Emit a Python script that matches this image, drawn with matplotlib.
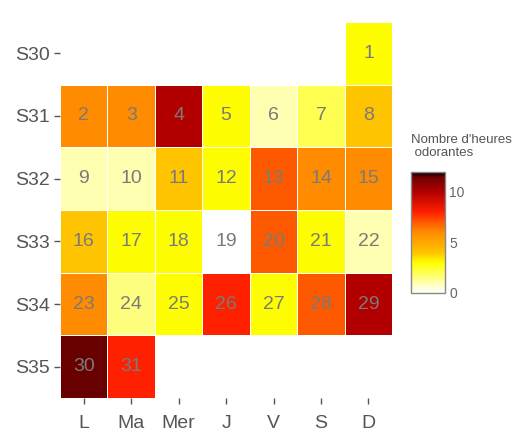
import numpy as np
import matplotlib.pyplot as plt
from matplotlib.colors import LinearSegmentedColormap

plt.rcParams['font.family'] = ['Liberation Sans', 'DejaVu Sans']

weeks = ['S30', 'S31', 'S32', 'S33', 'S34', 'S35']
days = ['L', 'Ma', 'Mer', 'J', 'V', 'S', 'D']
# hours per day of the month, day 1 falls on a Sunday
hours = [3, 6, 6, 10, 3, 1, 2, 4, 1, 1,
         4, 3, 7, 6, 6, 4, 3, 3, 0, 7,
         3, 1, 6, 1.5, 3, 8, 3, 7, 10, 11.5,
         8]
first_weekday = 6

cmap = LinearSegmentedColormap.from_list('heures', [
    (0 / 12, '#FFFFFF'), (1 / 12, '#FFFFB0'), (2 / 12, '#FFFF50'),
    (3 / 12, '#FFFF00'), (4 / 12, '#FFC400'), (6 / 12, '#FF8C00'),
    (7 / 12, '#FF5A00'), (8 / 12, '#FF2000'), (10 / 12, '#B30000'),
    (11.5 / 12, '#700000'), (12 / 12, '#000000')])

grid = np.full((len(weeks), len(days)), np.nan)
for i, h in enumerate(hours):
    pos = i + first_weekday
    grid[pos // 7, pos % 7] = h

fig = plt.figure(figsize=(5.24, 4.36), dpi=100)
ax = fig.add_axes([0.1145, 0.087, 0.634, 0.863])
mesh = ax.pcolormesh(np.ma.masked_invalid(grid), cmap=cmap, vmin=0, vmax=12,
                     edgecolors='white', linewidth=0.6)
for i in range(len(hours)):
    pos = i + first_weekday
    ax.text(pos % 7 + 0.5, pos // 7 + 0.5, str(i + 1), ha='center', va='center',
            fontsize=14, color='#7A7A7A')

ax.set_xlim(0, 7)
ax.set_ylim(6, 0)
ax.set_xticks(np.arange(7) + 0.5)
ax.set_xticklabels(days)
ax.set_yticks(np.arange(6) + 0.5)
ax.set_yticklabels(weeks)
ax.tick_params(labelsize=14, colors='#555555', length=4, width=1)
ax.tick_params(axis='x', pad=8)
ax.tick_params(axis='y', pad=3)
for s in ax.spines.values():
    s.set_visible(False)

cax = fig.add_axes([0.784, 0.328, 0.065, 0.278])
cb = fig.colorbar(mesh, cax=cax, ticks=[0, 5, 10])
cb.outline.set_edgecolor('#888888')
cb.outline.set_linewidth(1)
cax.tick_params(labelsize=10, colors='#666666', length=0, pad=3)
fig.text(0.784, 0.635, "Nombre d'heures\n odorantes", fontsize=9.5,
         color='#555555', ha='left', va='bottom', linespacing=1.1)

fig.savefig('out.png', dpi=100)
